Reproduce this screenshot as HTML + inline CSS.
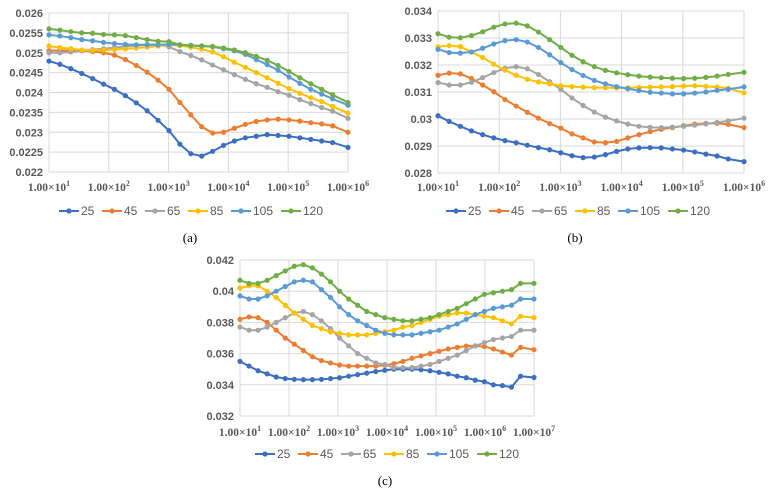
<!DOCTYPE html>
<html><head><meta charset="utf-8"><style>
body{margin:0;background:#fff;}
svg{display:block;font-family:"Liberation Sans",sans-serif;}
.yt{font-size:11px;font-weight:bold;fill:#595959;text-anchor:end;}
.xt{font-family:"Liberation Serif",serif;font-size:11.5px;font-weight:bold;fill:#595959;text-anchor:middle;}
.lg{font-size:12px;fill:#595959;}
.cap{font-family:"Liberation Serif",serif;font-size:13px;fill:#000;text-anchor:middle;}
</style></head><body>
<svg id="chart" width="774" height="494"></svg>
<script>
const seriesNames = ["25","45","65","85","105","120"];
const colors = ["#3b6fc1","#ed7d31","#a5a5a5","#ffc000","#5b9bd5","#70ad47"];
const aValues = [
[0.02479,0.02471,0.0246,0.02448,0.02435,0.02421,0.02408,0.02392,0.02374,0.02354,0.0233,0.02304,0.0227,0.02246,0.0224,0.02252,0.02267,0.02278,0.02286,0.0229,0.02294,0.02292,0.0229,0.02286,0.02282,0.02278,0.02274,0.02262],
[0.02505,0.02506,0.02505,0.02505,0.02503,0.025,0.02494,0.02483,0.02468,0.02451,0.02431,0.02408,0.02375,0.02344,0.02314,0.02298,0.023,0.0231,0.0232,0.02327,0.02331,0.02333,0.02331,0.02328,0.02324,0.02321,0.02316,0.023],
[0.025,0.025,0.02502,0.02505,0.02508,0.0251,0.02513,0.02516,0.02518,0.0252,0.02521,0.02515,0.02503,0.02493,0.02482,0.02469,0.02457,0.02445,0.02433,0.02422,0.02413,0.02402,0.02393,0.02382,0.02372,0.02362,0.02353,0.02335],
[0.02517,0.02513,0.0251,0.02507,0.02506,0.02507,0.02508,0.0251,0.02512,0.02514,0.02517,0.0252,0.02518,0.02514,0.02509,0.02502,0.0249,0.02476,0.02463,0.0245,0.02437,0.02423,0.0241,0.02398,0.02387,0.02377,0.02365,0.02348],
[0.02545,0.02542,0.02538,0.02533,0.0253,0.02526,0.02523,0.02521,0.0252,0.0252,0.0252,0.02521,0.0252,0.02519,0.02517,0.02515,0.0251,0.02505,0.02496,0.02483,0.0247,0.02456,0.02439,0.02423,0.02408,0.02396,0.02384,0.02368],
[0.0256,0.02557,0.02553,0.0255,0.02549,0.02546,0.02545,0.02543,0.02538,0.02533,0.02529,0.02528,0.0252,0.02518,0.02517,0.02516,0.02512,0.02507,0.025,0.02491,0.02481,0.02468,0.02453,0.02437,0.02422,0.02408,0.02394,0.02375]];
const bValues = [
[0.03012,0.02991,0.02973,0.02956,0.02942,0.0293,0.0292,0.02912,0.02903,0.02894,0.02886,0.02875,0.02864,0.02857,0.02859,0.02868,0.0288,0.02889,0.02893,0.02894,0.02893,0.02889,0.02885,0.02878,0.0287,0.02863,0.02852,0.02842],
[0.03162,0.0317,0.03167,0.0315,0.03126,0.03101,0.03072,0.03048,0.03025,0.03003,0.02983,0.02966,0.02945,0.0293,0.02915,0.02912,0.02917,0.0293,0.02942,0.02953,0.02962,0.02968,0.02975,0.02981,0.02984,0.02984,0.0298,0.02968],
[0.03135,0.03126,0.03126,0.03136,0.03153,0.03172,0.03188,0.03194,0.03186,0.03165,0.03138,0.0311,0.03078,0.0305,0.03026,0.03007,0.02993,0.02981,0.02973,0.02969,0.02968,0.0297,0.02973,0.02977,0.02982,0.02987,0.02993,0.03003],
[0.03267,0.03272,0.03268,0.03248,0.03228,0.03203,0.03181,0.03162,0.03147,0.03137,0.0313,0.03123,0.0312,0.03118,0.03116,0.03116,0.03115,0.03116,0.03117,0.03118,0.03119,0.0312,0.03122,0.03123,0.03121,0.03118,0.03114,0.03097],
[0.03258,0.03246,0.03244,0.03248,0.03262,0.03278,0.0329,0.03294,0.03285,0.03265,0.03238,0.03209,0.03183,0.03161,0.03143,0.0313,0.0312,0.03112,0.03105,0.03099,0.03096,0.03093,0.03093,0.03096,0.031,0.03106,0.0311,0.03119],
[0.03316,0.03303,0.03301,0.03309,0.03323,0.0334,0.03352,0.03355,0.03345,0.03322,0.03294,0.03265,0.03236,0.03212,0.03194,0.0318,0.03171,0.03164,0.03159,0.03155,0.03153,0.03151,0.0315,0.03151,0.03154,0.03159,0.03165,0.03173]];
const cValues = [
[0.0355,0.0352,0.0349,0.0347,0.0345,0.0344,0.03435,0.03433,0.03433,0.03435,0.0344,0.03445,0.03455,0.03465,0.03475,0.03485,0.03493,0.035,0.035,0.035,0.03497,0.0349,0.0348,0.0347,0.03455,0.03445,0.0343,0.0342,0.034,0.03395,0.03385,0.03455,0.03447],
[0.0382,0.03835,0.0383,0.038,0.0375,0.037,0.0366,0.0362,0.0358,0.03555,0.0354,0.03527,0.0352,0.0352,0.0352,0.0352,0.03525,0.03535,0.0355,0.0357,0.03585,0.036,0.03615,0.0363,0.0364,0.03648,0.0365,0.03645,0.0363,0.0361,0.0359,0.0364,0.03625],
[0.0377,0.0375,0.0375,0.0377,0.038,0.0383,0.0386,0.0387,0.0385,0.0381,0.0376,0.037,0.0365,0.036,0.0357,0.0354,0.0353,0.0351,0.0351,0.0351,0.0352,0.0353,0.0355,0.0357,0.0359,0.0362,0.0365,0.0367,0.0369,0.037,0.0371,0.0375,0.0375],
[0.0402,0.04035,0.04035,0.04,0.0396,0.0391,0.0386,0.0382,0.0378,0.0376,0.0374,0.0373,0.0372,0.0372,0.0372,0.0373,0.0374,0.0375,0.0377,0.0378,0.038,0.0382,0.0384,0.0385,0.0386,0.0386,0.0385,0.0384,0.0383,0.0381,0.0379,0.0384,0.0383],
[0.0397,0.0395,0.0395,0.0397,0.04,0.0403,0.0406,0.0407,0.0406,0.0401,0.0396,0.039,0.0385,0.0381,0.0378,0.0375,0.0373,0.0372,0.0372,0.0372,0.0373,0.0374,0.0375,0.0377,0.0379,0.0382,0.0385,0.0387,0.0389,0.039,0.0391,0.0395,0.0395],
[0.0407,0.0405,0.0405,0.0407,0.041,0.0413,0.0416,0.0417,0.0415,0.0411,0.0406,0.04,0.0395,0.0391,0.0387,0.0385,0.0383,0.0382,0.0381,0.0381,0.0382,0.0383,0.0385,0.0387,0.0389,0.0392,0.0395,0.0398,0.0399,0.04,0.0401,0.0405,0.0405]];
const aYTicks = ["0.026","0.0255","0.025","0.0245","0.024","0.0235","0.023","0.0225","0.022"];
const bYTicks = ["0.034","0.033","0.032","0.031","0.03","0.029","0.028"];
const cYTicks = ["0.042","0.04","0.038","0.036","0.034","0.032"];
const aExps = [1,2,3,4,5,6];
const cExps = [1,2,3,4,5,6,7];

const NS="http://www.w3.org/2000/svg";
const svg=document.getElementById('chart');
function mk(tag,attrs,parent){const e=document.createElementNS(NS,tag);for(const k in attrs)e.setAttribute(k,attrs[k]);(parent||svg).appendChild(e);return e;}

function panel(id,cfg){
  const g=mk('g',{});
  
  
  const {x0,x1,y0,y1,ymax,ymin,exps,yTicks,values,tickY,legX,legY,capX,capY,cap}=cfg;
  const lmin=exps[0],lmax=exps[exps.length-1];
  const xs=l=>x0+(l-lmin)/(lmax-lmin)*(x1-x0);
  const ys=v=>y0+(ymax-v)/(ymax-ymin)*(y1-y0);
  yTicks.forEach(t=>{const v=parseFloat(t);const y=ys(v);
    const ln=mk('line',{x1:x0,x2:x1,y1:y,y2:y,stroke:'#d9d9d9','stroke-width':1},g);
    
    
    const tx=mk('text',{x:x0-6,y:y+4,class:'yt'},g);tx.textContent=t;
    
    
  });
  exps.forEach(e=>{const x=xs(e);
    const ln=mk('line',{x1:x,x2:x,y1:y0,y2:y1,stroke:'#d9d9d9','stroke-width':1},g);
    
    
    const tx=mk('text',{x:x,y:tickY,class:'xt'},g);
    
    
    tx.appendChild(document.createTextNode('1.00×10'));
    const sp=mk('tspan',{dy:-5,'font-size':'8px'},tx);sp.textContent=e;
  });
  values.forEach((arr,si)=>{
    const n=arr.length;
    const pts=arr.map((v,i)=>[xs(lmin+i*(lmax-lmin)/(n-1)*(i===n-1?1:0.985)),ys(v)]);
    const pl=mk('polyline',{points:pts.map(p=>p.join(',')).join(' '),fill:'none',stroke:colors[si],'stroke-width':2},g);
    
    
    pts.forEach(p=>{const c=mk('circle',{cx:p[0],cy:p[1],r:2.6,fill:colors[si]},g);
      
      });
  });
  seriesNames.forEach((s,i)=>{const lx=legX+i*43+(i>4?7:0);
    const lg=mk('g',{},g);
    
    
    mk('line',{x1:lx,x2:lx+20,y1:legY,y2:legY,stroke:colors[i],'stroke-width':2},lg);
    mk('circle',{cx:lx+10,cy:legY,r:2.6,fill:colors[i]},lg);
    const t=mk('text',{x:lx+22,y:legY+4,class:'lg'},lg);t.textContent=s;
  });
  const c=mk('text',{x:capX,y:capY,class:'cap'},g);c.textContent=cap;
  
  
}
panel('a',{x0:49,x1:348,y0:13,y1:172,ymax:0.026,ymin:0.022,exps:aExps,yTicks:aYTicks,values:aValues,tickY:191,legX:59,legY:211,capX:190,capY:242,cap:'(a)'});
panel('b',{x0:438,x1:744,y0:11,y1:173,ymax:0.034,ymin:0.028,exps:aExps,yTicks:bYTicks,values:bValues,tickY:191,legX:446,legY:211,capX:575,capY:242,cap:'(b)'});
panel('c',{x0:240,x1:534,y0:260,y1:416,ymax:0.042,ymin:0.032,exps:cExps,yTicks:cYTicks,values:cValues,tickY:436,legX:255,legY:454,capX:385,capY:485,cap:'(c)'});
</script>
</body></html>
